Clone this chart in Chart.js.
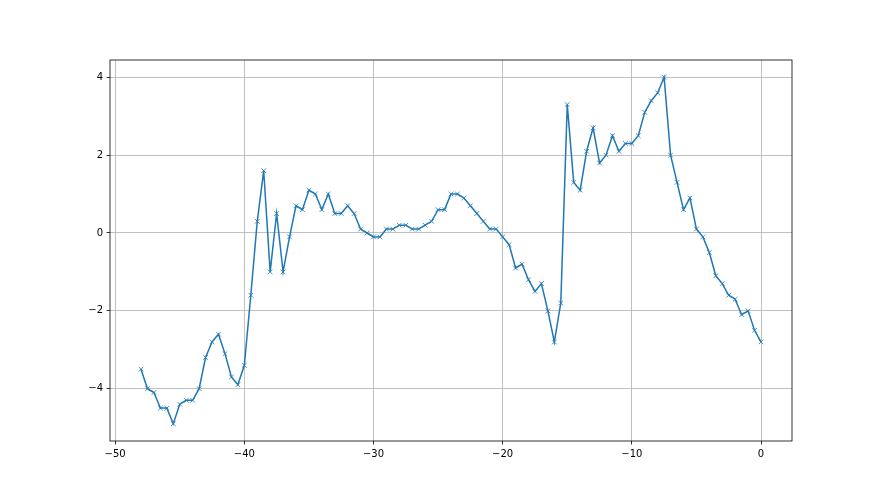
<!DOCTYPE html>
<html>
<head>
<meta charset="utf-8">
<script src="https://cdn.jsdelivr.net/npm/chart.js@4"></script>
<style>
html,body{margin:0;padding:0;background:#fff;}
canvas{display:block;}
</style>
</head>
<body>
<canvas id="c" width="880" height="495"></canvas>
<script>
const xValues = [-48,-47.5,-47,-46.5,-46,-45.5,-45,-44.5,-44,-43.5,-43,-42.5,-42,-41.5,-41,-40.5,-40,-39.5,-39,-38.5,-38,-37.5,-37,-36.5,-36,-35.5,-35,-34.5,-34,-33.5,-33,-32.5,-32,-31.5,-31,-30.5,-30,-29.5,-29,-28.5,-28,-27.5,-27,-26.5,-26,-25.5,-25,-24.5,-24,-23.5,-23,-22.5,-22,-21.5,-21,-20.5,-20,-19.5,-19,-18.5,-18,-17.5,-17,-16.5,-16,-15.5,-15,-14.5,-14,-13.5,-13,-12.5,-12,-11.5,-11,-10.5,-10,-9.5,-9,-8.5,-8,-7.5,-7,-6.5,-6,-5.5,-5,-4.5,-4,-3.5,-3,-2.5,-2,-1.5,-1,-0.5,0];
const yValues = [-3.5,-4.0,-4.1,-4.5,-4.5,-4.9,-4.4,-4.3,-4.3,-4.0,-3.2,-2.8,-2.6,-3.1,-3.7,-3.9,-3.4,-1.6,0.3,1.6,-1.0,0.5,-1.0,-0.1,0.7,0.6,1.1,1.0,0.6,1.0,0.5,0.5,0.7,0.5,0.1,0.0,-0.1,-0.1,0.1,0.1,0.2,0.2,0.1,0.1,0.2,0.3,0.6,0.6,1.0,1.0,0.9,0.7,0.5,0.3,0.1,0.1,-0.1,-0.3,-0.9,-0.8,-1.2,-1.5,-1.3,-2.0,-2.8,-1.8,3.3,1.3,1.1,2.1,2.7,1.8,2.0,2.5,2.1,2.3,2.3,2.5,3.1,3.4,3.6,4.0,2.0,1.3,0.6,0.9,0.1,-0.1,-0.5,-1.1,-1.3,-1.6,-1.7,-2.1,-2.0,-2.5,-2.8];
const xTicks = [-50,-40,-30,-20,-10,0];
const yTicks = [-4,-2,0,2,4];

const fmt = v => String(v).replace('-', '\u2212');

const frame = {
  id: 'frame',
  afterDraw(chart) {
    const a = chart.chartArea, ctx = chart.ctx;
    ctx.save();
    ctx.strokeStyle = '#000';
    ctx.lineWidth = 0.8;
    ctx.strokeRect(a.left, a.top, a.right - a.left, a.bottom - a.top);
    ctx.restore();
  }
};

const gridOpts = {
  color: '#b0b0b0',
  lineWidth: 0.8,
  drawTicks: true,
  tickLength: 3.5,
  tickColor: '#000',
  tickWidth: 0.8
};
const tickFont = { family: 'DejaVu Sans', size: 10 };

new Chart(document.getElementById('c'), {
  type: 'line',
  data: {
    datasets: [{
      data: xValues.map((x, i) => ({ x: x, y: yValues[i] })),
      borderColor: '#1f77b4',
      backgroundColor: '#1f77b4',
      borderWidth: 1.5,
      pointStyle: 'crossRot',
      pointRadius: 3.3,
      pointBorderWidth: 0.8,
      pointBorderColor: '#1f77b4',
      pointHoverRadius: 3.3,
      tension: 0,
      fill: false
    }]
  },
  options: {
    responsive: false,
    devicePixelRatio: 1,
    animation: false,
    events: [],
    layout: { padding: { left: 0, top: 60, right: 88, bottom: 0 } },
    plugins: { legend: { display: false }, tooltip: { enabled: false } },
    scales: {
      x: {
        type: 'linear',
        min: -50.4,
        max: 2.4,
        afterBuildTicks: s => { s.ticks = xTicks.map(v => ({ value: v })); },
        afterFit: s => { s.height = 54; },
        grid: gridOpts,
        border: { display: false },
        ticks: { color: '#000', font: tickFont, padding: 3.5, maxRotation: 0, callback: v => fmt(v) }
      },
      y: {
        type: 'linear',
        min: -5.345,
        max: 4.445,
        afterBuildTicks: s => { s.ticks = yTicks.map(v => ({ value: v })); },
        afterFit: s => { s.width = 110; },
        grid: gridOpts,
        border: { display: false },
        ticks: { color: '#000', font: tickFont, padding: 3.5, callback: v => fmt(v) }
      }
    }
  },
  plugins: [frame]
});
</script>
</body>
</html>
